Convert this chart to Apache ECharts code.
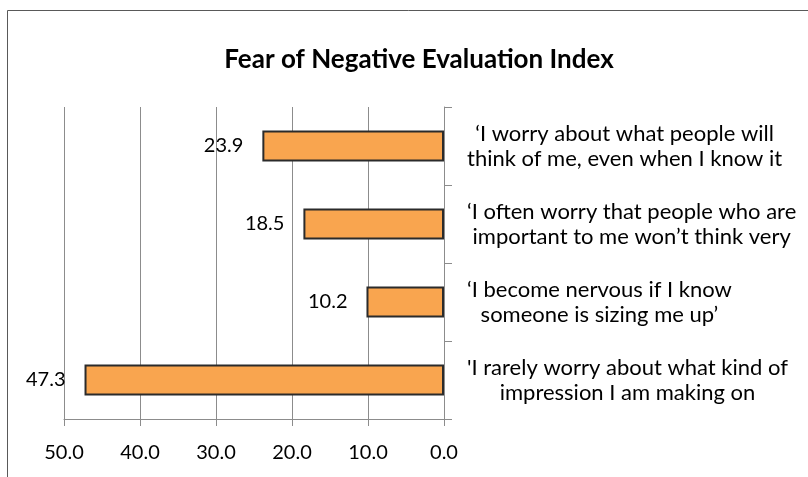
<!DOCTYPE html>
<html>
<head>
<meta charset="utf-8">
<script src="https://cdn.jsdelivr.net/npm/echarts@6/dist/echarts.min.js"></script>
<style>
  html, body { margin: 0; padding: 0; background: #fff; }
  #main { width: 808px; height: 477px; }
</style>
</head>
<body>
<div id="main"></div>
<script>
// data, top to bottom as in the picture
var categories = [
    '\u2018I worry about what people will\nthink of me, even when I know it',
    '\u2018I often worry that people who are\nimportant to me won\u2019t think very',
    '\u2018I become nervous if I know\nsomeone is sizing me up\u2019',
    '\'I rarely worry about what kind of\nimpression I am making on'
];
var values = [23.9, 18.5, 10.2, 47.3];
var titleText = 'Fear of Negative Evaluation Index';

var FONT = 'Lato';
var myChart = echarts.init(document.getElementById('main'));

var option = {
    animation: false,
    backgroundColor: '#fff',
    title: {
        text: titleText,
        left: 414,
        textAlign: 'center',
        top: 42,
        textStyle: { fontFamily: FONT, fontSize: 26, fontWeight: 'bold', color: '#000' }
    },
    graphic: [{
        type: 'rect',
        shape: { x: 7.5, y: 10.5, width: 900, height: 600 },
        style: { fill: 'none', stroke: '#595959', lineWidth: 1 },
        silent: true
    }],
    grid: { left: 64, right: 364, top: 107, bottom: 58 },
    xAxis: {
        type: 'value',
        inverse: true,
        min: 0,
        max: 50,
        interval: 10,
        axisLine: { show: true, lineStyle: { color: '#8c8c8c', width: 1 } },
        axisTick: { show: true, length: 7, lineStyle: { color: '#8c8c8c' } },
        splitLine: { show: true, lineStyle: { color: '#8c8c8c', width: 1 } },
        axisLabel: {
            margin: 24,
            fontFamily: FONT, fontSize: 20, color: '#000',
            formatter: function (v) { return v.toFixed(1); }
        }
    },
    yAxis: {
        type: 'category',
        position: 'right',
        inverse: true,
        data: categories,
        axisLine: { show: true, lineStyle: { color: '#8c8c8c', width: 1 } },
        axisTick: { show: true, length: 8, lineStyle: { color: '#8c8c8c' } },
        axisLabel: {
            margin: 23,
            align: 'left',
            formatter: function (v) {
                return v.split('\n').map(function (s) { return '{c|' + s + '}'; }).join('\n');
            },
            rich: {
                c: { align: 'center', fontFamily: FONT, fontSize: 22, color: '#000', lineHeight: 25 }
            }
        }
    },
    series: [{
        type: 'bar',
        data: values,
        barWidth: 31,
        itemStyle: { color: '#F9A54F', borderColor: '#2b2b2b', borderWidth: 2 },
        label: {
            show: true,
            position: 'left',
            distance: 19,
            fontFamily: FONT, fontSize: 20, color: '#000',
            formatter: function (p) { return p.value.toFixed(1); }
        }
    }]
};

myChart.setOption(option);
</script>
</body>
</html>
